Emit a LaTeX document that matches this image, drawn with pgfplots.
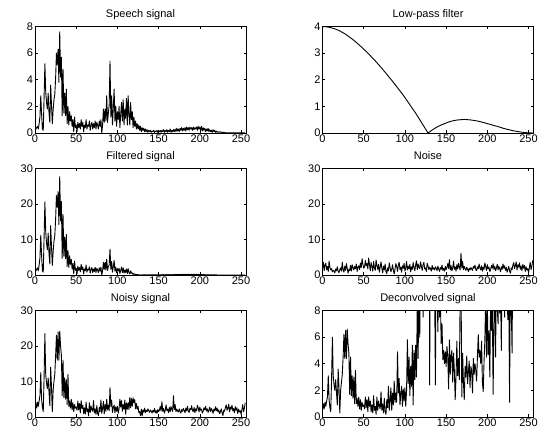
\documentclass[border=0pt]{standalone}
\usepackage{fontspec}
\setmainfont{Liberation Sans}
\usepackage{pgfplots}
\usepackage{pgfplotstable}
\pgfplotsset{compat=1.18}

% k: index, s: speech, f: filtered, n: noise, y: noisy, d: deconvolved
\pgfplotstableread{
k s f n y d
0 0.2 0.8 2.1 2.2 0.5
1 0.3 1.2 3.6 4.0 1.0
2 0.4 1.6 1.2 2.5 0.6
3 0.5 2.0 2.8 4.2 1.1
4 0.3 1.2 3.3 3.0 0.8
5 0.7 2.8 1.5 4.5 1.2
6 1.2 4.8 2.4 6.0 1.5
7 2.8 11.2 1.0 12.5 3.1
8 1.4 5.5 3.9 5.0 1.3
9 0.3 1.2 2.2 2.8 0.7
10 0.2 0.8 1.4 1.5 0.4
11 2.6 10.3 1.8 11.0 2.8
12 5.2 20.6 0.9 23.5 6.0
13 3.1 12.2 1.3 12.0 3.1
14 2.3 9.0 1.1 9.5 2.4
15 1.8 7.1 0.6 8.0 2.0
16 3.0 11.8 1.7 11.0 2.8
17 1.5 5.9 1.2 7.0 1.8
18 0.8 3.1 2.3 3.2 0.9
19 3.6 13.9 1.0 14.0 3.6
20 2.1 8.1 0.7 8.5 2.2
21 0.7 2.7 1.5 1.5 0.3
22 1.7 6.5 2.0 7.5 2.0
23 2.5 9.5 1.1 10.0 2.6
24 2.9 11.0 3.6 12.0 3.2
25 4.1 15.6 1.4 17.0 4.5
26 6.0 22.4 0.8 23.0 6.2
27 5.1 19.0 2.5 16.0 4.4
28 6.3 23.5 1.3 24.0 6.5
29 3.8 14.2 3.2 16.0 4.4
30 7.6 27.7 1.9 24.2 6.6
31 4.2 15.3 0.5 20.0 5.5
32 5.7 20.7 1.6 17.5 4.8
33 1.3 4.7 1.2 6.0 1.7
34 4.8 17.0 2.7 16.0 4.5
35 1.5 5.3 1.1 5.5 1.6
36 3.0 10.7 2.9 11.0 3.1
37 1.3 4.6 2.0 5.0 1.4
38 3.3 11.4 1.4 10.5 3.0
39 0.7 2.4 2.4 3.5 1.0
40 2.0 6.9 1.8 12.0 3.5
41 0.6 2.1 3.1 3.0 1.0
42 1.6 5.4 1.0 4.5 1.4
43 0.9 3.0 2.2 2.5 0.8
44 1.3 4.4 2.6 5.0 1.5
45 0.5 1.7 1.5 2.0 0.6
46 1.0 3.2 3.4 4.0 1.3
47 0.1 0.3 2.1 1.5 0.5
48 1.2 3.9 4.6 3.5 1.1
49 0.4 1.3 3.0 2.5 0.8
50 0.6 1.9 1.9 2.8 0.9
51 0.1 0.3 2.3 1.9 0.6
52 0.8 2.5 4.1 4.5 1.5
53 0.4 1.3 2.6 2.0 0.7
54 0.7 2.1 3.3 3.8 1.3
55 0.3 0.9 1.7 1.2 0.4
56 1.0 3.0 4.8 4.6 1.5
57 0.5 1.5 2.9 2.4 0.8
58 0.8 2.3 1.2 3.3 1.2
59 0.1 0.3 3.5 1.0 0.4
60 0.6 1.7 2.4 2.6 0.9
61 0.4 1.2 1.1 0.8 0.3
62 1.0 2.8 3.8 4.2 1.6
63 0.3 0.8 2.0 1.5 0.5
64 0.6 1.7 1.3 2.3 0.8
65 0.5 1.4 4.2 0.3 0.2
66 0.9 2.3 2.7 4.0 1.5
67 0.2 0.5 1.6 1.3 0.5
68 0.6 1.6 3.0 3.1 1.2
69 0.8 2.1 0.8 2.0 0.8
70 0.3 0.7 2.2 1.6 0.6
71 0.7 1.7 3.7 4.6 1.9
72 0.4 1.0 1.9 1.2 0.5
73 0.9 2.2 0.6 2.3 1.0
74 0.3 0.7 2.5 0.7 0.3
75 0.8 1.9 1.4 3.2 1.4
76 0.6 1.4 3.1 1.0 0.4
77 0.3 0.7 1.0 0.4 0.2
78 0.9 2.0 0.4 2.8 1.3
79 0.5 1.1 2.0 1.5 0.7
80 1.0 2.2 1.2 4.8 2.3
81 0.0 0.0 3.4 1.0 0.5
82 0.6 1.2 2.1 2.4 1.2
83 1.8 3.6 0.9 4.4 2.2
84 0.8 1.6 1.6 0.9 0.5
85 1.8 3.6 2.9 3.5 1.8
86 0.9 1.4 1.3 1.6 0.9
87 2.8 4.5 0.3 5.0 2.7
88 0.8 1.3 1.8 2.0 1.1
89 1.5 2.4 3.2 3.3 1.8
90 2.1 2.8 2.4 1.8 1.1
91 5.4 7.3 1.0 8.3 4.9
92 1.2 1.6 2.7 3.0 1.8
93 2.8 3.8 3.6 4.8 2.9
94 0.6 0.8 1.5 1.3 0.9
95 1.9 2.4 2.2 2.6 1.7
96 3.3 4.1 0.8 3.4 2.3
97 0.9 1.1 2.6 1.2 0.8
98 2.0 2.2 1.9 2.9 2.1
99 0.5 0.6 3.3 1.6 1.2
100 1.6 1.8 1.1 3.0 2.2
101 1.0 1.1 2.0 1.1 0.8
102 2.0 1.9 3.8 2.4 2.0
103 0.4 0.4 1.4 5.0 5.8
104 1.4 1.3 2.5 2.8 2.5
105 2.3 2.2 1.7 4.6 4.5
106 0.9 0.7 3.0 1.6 1.6
107 2.5 2.0 0.9 3.5 3.8
108 0.6 0.5 2.3 2.2 2.3
109 1.8 1.4 1.6 4.8 5.4
110 1.1 0.7 3.5 0.8 0.9
111 2.6 1.7 2.1 4.0 5.0
112 0.6 0.4 1.2 2.2 2.8
113 2.8 1.8 2.8 4.0 5.4
114 1.4 0.7 4.0 2.1 3.0
115 0.6 0.3 1.5 5.5 8.5
116 2.3 1.2 3.1 2.6 4.4
117 1.0 0.5 2.2 5.2 9.5
118 1.6 0.6 1.8 3.0 6.0
119 0.4 0.14 3.7 5.4 12
120 1.2 0.4 2.4 4.0 10
121 0.5 0.18 1.3 4.9 14
122 0.9 0.18 2.9 2.3 7.5
123 0.3 0.06 3.6 3.8 15
124 0.7 0.14 1.7 2.2 11
125 0.3 0.06 2.0 3.0 20
126 0.6 0.05 1.0 1.2 12
127 0.2 0.02 3.3 1.5 30
128 0.5 0.0 2.6 0.4 20
129 0.1 0.01 1.5 2.2 40
130 0.4 0.05 2.2 0.3 2.4
131 0.2 0.03 1.8 2.0 16
132 0.35 0.06 1.1 1.4 10
133 0.1 0.02 2.7 2.5 12
134 0.3 0.06 1.6 1.2 9
135 0.1 0.02 2.0 1.9 14
136 0.25 0.06 1.4 1.5 10
137 0.05 0.01 2.3 2.3 2.4
138 0.2 0.06 1.9 1.8 15
139 0.1 0.03 1.2 1.3 9.5
140 0.2 0.06 2.5 2.0 6.4
141 0.05 0.02 1.7 1.6 11
142 0.15 0.05 1.0 1.1 7.5
143 0.1 0.03 2.1 1.9 9.0
144 0.2 0.07 1.6 1.4 5.5
145 0.05 0.02 2.8 2.4 7.0
146 0.15 0.05 1.3 1.2 4.3
147 0.1 0.04 1.9 1.8 5.0
148 0.2 0.08 1.1 1.0 4.0
149 0.05 0.02 2.4 2.1 4.9
150 0.15 0.06 1.5 1.5 3.8
151 0.1 0.04 2.2 2.0 5.3
152 0.2 0.08 3.2 3.0 4.5
153 0.05 0.02 1.8 1.7 2.1
154 0.2 0.09 4.3 4.3 5.8
155 0.1 0.04 1.4 1.6 3.2
156 0.25 0.11 2.6 2.4 4.6
157 0.05 0.02 1.2 1.1 5.0
158 0.2 0.09 2.0 1.9 2.6
159 0.1 0.05 3.9 3.4 4.8
160 0.25 0.12 1.6 1.8 3.5
161 0.05 0.02 2.3 2.2 1.3
162 0.2 0.1 1.1 1.2 3.0
163 0.1 0.05 2.9 2.7 5.7
164 0.3 0.15 1.7 1.5 3.1
165 0.05 0.02 3.3 3.0 4.4
166 0.2 0.1 2.1 2.0 2.8
167 0.1 0.05 1.4 1.6 9.0
168 0.25 0.12 6.1 6.0 11
169 0.1 0.05 2.0 2.1 1.5
170 0.3 0.15 3.8 3.5 4.8
171 0.1 0.05 1.5 1.5 2.6
172 0.35 0.17 2.4 2.2 1.3
173 0.15 0.07 1.8 1.7 3.8
174 0.3 0.15 1.3 1.4 3.0
175 0.1 0.05 2.2 2.3 4.6
176 0.35 0.17 1.6 1.5 2.5
177 0.2 0.1 1.0 1.1 3.4
178 0.4 0.2 1.9 2.1 4.2
179 0.15 0.07 1.4 1.6 2.2
180 0.35 0.17 2.1 2.4 3.8
181 0.2 0.09 1.7 1.8 3.5
182 0.4 0.19 1.3 1.2 1.8
183 0.15 0.07 2.4 2.5 4.4
184 0.45 0.21 1.9 1.7 3.2
185 0.25 0.11 2.8 3.0 4.0
186 0.4 0.18 1.5 1.6 3.5
187 0.2 0.09 1.2 1.3 2.7
188 0.45 0.2 2.3 2.4 4.6
189 0.3 0.13 1.8 2.0 6.2
190 0.4 0.17 3.1 3.2 4.5
191 0.2 0.08 2.0 1.9 5.0
192 0.45 0.19 1.4 1.5 4.0
193 0.25 0.1 2.6 2.7 5.7
194 0.4 0.16 1.1 1.2 2.6
195 0.3 0.12 2.2 2.3 1.9
196 0.45 0.17 1.6 1.7 4.2
197 0.2 0.07 3.4 3.3 5.8
198 0.5 0.18 2.4 2.6 9.0
199 0.3 0.1 1.3 1.4 4.5
200 0.45 0.15 2.9 2.8 8.5
201 0.2 0.07 1.7 1.9 4.7
202 0.5 0.16 2.2 2.2 6.5
203 0.15 0.05 1.0 1.1 3.0
204 0.4 0.12 1.5 1.6 9.0
205 0.2 0.06 2.7 2.6 6.5
206 0.35 0.1 1.9 2.0 8.8
207 0.1 0.03 3.2 3.0 1.7
208 0.3 0.08 1.6 1.7 7.0
209 0.15 0.04 2.4 2.3 10
210 0.35 0.09 1.2 1.3 4.5
211 0.1 0.02 2.0 2.0 11
212 0.25 0.06 3.0 2.8 8.2
213 0.1 0.02 1.4 1.5 7.0
214 0.2 0.04 2.5 2.4 12
215 0.05 0.01 1.8 1.9 7.8
216 0.25 0.05 0.9 1.0 9.5
217 0.1 0.02 2.3 2.2 5.0
218 0.2 0.03 1.6 1.7 14
219 0.05 0.01 3.1 2.9 8.5
220 0.15 0.02 1.9 1.8 10
221 0.05 0.01 2.6 2.5 7.5
222 0.1 0.01 1.3 1.4 13
223 0.05 0.0 2.1 2.0 9
224 0.1 0.0 0.8 0.9 8.5
225 0.05 0.0 1.6 1.5 7.3
226 0.08 0.0 2.4 2.3 9.0
227 0.03 0.0 1.1 1.2 1.1
228 0.05 0.0 0.5 0.4 12
229 0.03 0.0 2.0 1.9 8.5
230 0.03 0.0 1.5 1.6 4.8
231 0.02 0.0 2.8 2.7 14
232 0.02 0.0 3.5 3.4 20
233 0.02 0.0 1.8 1.9 25
234 0.02 0.0 2.6 2.5 15
235 0.02 0.0 3.7 3.6 30
236 0.02 0.0 1.4 1.5 18
237 0.02 0.0 2.9 2.8 22
238 0.02 0.0 2.2 2.2 40
239 0.02 0.0 3.4 3.3 25
240 0.02 0.0 1.6 1.7 16
241 0.02 0.0 2.5 2.4 30
242 0.02 0.0 1.2 1.2 45
243 0.02 0.0 3.0 2.9 20
244 0.02 0.0 1.9 1.9 28
245 0.02 0.0 2.7 2.6 60
246 0.02 0.0 1.0 1.0 35
247 0.02 0.0 2.3 2.2 50
248 0.02 0.0 1.4 1.4 80
249 0.02 0.0 1.8 1.8 40
250 0.02 0.0 0.7 0.8 100
251 0.02 0.0 2.1 2.0 90
252 0.02 0.0 3.6 3.5 150
253 0.02 0.0 1.5 1.5 200
254 0.02 0.0 2.4 2.4 300
255 0.02 0.0 4.1 4.0 500
}\sig

\pgfplotstableread{
k h
0 4.00
4 3.99
8 3.97
12 3.94
16 3.90
20 3.85
24 3.78
28 3.71
32 3.62
36 3.53
40 3.43
44 3.32
48 3.21
52 3.09
56 2.97
60 2.84
64 2.71
68 2.57
72 2.43
76 2.28
80 2.13
84 1.98
88 1.82
92 1.66
96 1.50
100 1.33
104 1.15
108 0.97
112 0.79
116 0.60
120 0.40
124 0.20
128 0.00
132 0.09
136 0.17
140 0.24
144 0.30
148 0.35
152 0.40
156 0.44
160 0.47
164 0.49
168 0.50
172 0.51
176 0.50
180 0.49
184 0.47
188 0.45
192 0.42
196 0.39
200 0.35
204 0.32
208 0.28
212 0.25
216 0.21
220 0.17
224 0.14
228 0.11
232 0.08
236 0.06
240 0.04
244 0.02
248 0.01
252 0.003
256 0.00
}\filt

\pgfplotsset{
  sub/.style={
    scale only axis, width=211pt, height=106.5pt,
    anchor=south west,
    xmin=0, xmax=256, ymin=0,
    xtick={0,50,...,250},
    tick align=inside,
    major tick length=2.5pt,
    axis line style={line width=0.65pt},
    every tick/.style={black, line width=0.6pt},
    tick label style={font=\fontsize{11}{13}\selectfont},
    /pgf/number format/assume math mode=true,
    xticklabel style={yshift=1.5pt},
    yticklabel style={xshift=1.5pt},
    every axis title/.style={at={(0.5,1)}, anchor=base, yshift=9pt, font=\fontsize{11}{13}\selectfont},
  },
  sigline/.style={black, line width=0.9pt, line join=round, mark=none},
}

\begin{document}
\begin{tikzpicture}
\path[use as bounding box] (0pt,0pt) rectangle (539pt,433pt);

\begin{axis}[sub, at={(35pt,300pt)}, title={Speech signal}, ymax=8, ytick={0,2,4,6,8}]
\addplot[sigline] table[x=k, y=s] {\sig};
\end{axis}

\begin{axis}[sub, at={(322.5pt,300pt)}, title={Low-pass filter}, ymax=4, ytick={0,1,2,3,4}]
\addplot[sigline] table[x=k, y=h] {\filt};
\end{axis}

\begin{axis}[sub, at={(35pt,158pt)}, title={Filtered signal}, ymax=30, ytick={0,10,20,30}]
\addplot[sigline] table[x=k, y=f] {\sig};
\end{axis}

\begin{axis}[sub, at={(322.5pt,158pt)}, title={Noise}, ymax=30, ytick={0,10,20,30}]
\addplot[sigline] table[x=k, y=n] {\sig};
\end{axis}

\begin{axis}[sub, at={(35pt,16pt)}, title={Noisy signal}, ymax=30, ytick={0,10,20,30}]
\addplot[sigline] table[x=k, y=y] {\sig};
\end{axis}

\begin{axis}[sub, at={(322.5pt,16pt)}, title={Deconvolved signal}, ymax=8, ytick={0,2,4,6,8}]
\addplot[sigline] table[x=k, y=d] {\sig};
\end{axis}
\end{tikzpicture}
\end{document}
